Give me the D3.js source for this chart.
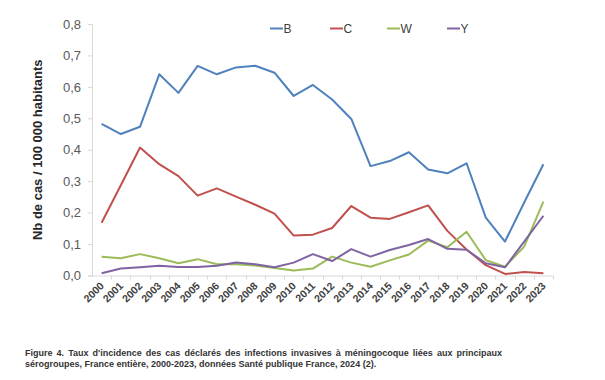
<!DOCTYPE html>
<html><head><meta charset="utf-8">
<script src="https://cdn.jsdelivr.net/npm/d3@7"></script>
<style>
html,body{margin:0;padding:0;background:#fff;}
svg{display:block;font-family:"Liberation Sans",Arial,sans-serif;}
</style></head>
<body>
<svg id="chart" width="605" height="380"></svg>
<script>
const years = ["2000","2001","2002","2003","2004","2005","2006","2007","2008","2009","2010","2011","2012","2013","2014","2015","2016","2017","2018","2019","2020","2021","2022","2023"];
const seriesNames = ["B","C","W","Y"];
const valuesB = [0.482,0.450,0.473,0.640,0.581,0.667,0.640,0.662,0.667,0.645,0.571,0.606,0.560,0.498,0.348,0.364,0.392,0.337,0.325,0.357,0.184,0.108,0.232,0.354];
const valuesC = [0.168,0.287,0.407,0.354,0.316,0.254,0.277,0.251,0.225,0.197,0.127,0.130,0.151,0.221,0.184,0.180,0.201,0.223,0.142,0.083,0.033,0.005,0.011,0.007];
const valuesW = [0.060,0.055,0.068,0.055,0.039,0.052,0.036,0.036,0.032,0.024,0.016,0.022,0.060,0.041,0.028,0.048,0.067,0.111,0.090,0.139,0.049,0.028,0.092,0.235];
const valuesY = [0.007,0.022,0.026,0.031,0.027,0.027,0.031,0.041,0.036,0.026,0.041,0.068,0.046,0.084,0.060,0.081,0.097,0.116,0.085,0.082,0.039,0.026,0.108,0.190];
const yTicks = [0,0.1,0.2,0.3,0.4,0.5,0.6,0.7,0.8];
const colors = ["#4f81bd","#c0504d","#9bbb59","#8064a2"];
const yLabel = "Nb de cas / 100 000 habitants";
const captionLines = ["Figure 4. Taux d'incidence des cas déclarés des infections invasives à méningocoque liées aux principaux",
                      "sérogroupes, France entière, 2000-2023, données Santé publique France, 2024 (2)."];

(function () {
const allValues = [valuesB, valuesC, valuesW, valuesY];
const svg = d3.select("#chart");
const pLeft = 92, pRight = 553, pTop = 24, pBottom = 275.5;

const x = d3.scaleBand().domain(years).range([pLeft, pRight]).paddingInner(0).paddingOuter(0);
const y = d3.scaleLinear().domain([0, 0.8]).range([pBottom, pTop]);
const cx = d => x(d) + x.bandwidth() / 2;
const axisColor = "#d9d9d9";
const textColor = "#595959";

// Y axis
const yAxis = d3.axisLeft(y).tickValues(yTicks).tickSize(4).tickPadding(7)
  .tickFormat(d => d3.format(".1f")(d).replace(".", ","));
const gy = svg.append("g").attr("transform", `translate(${pLeft},0)`).call(yAxis);
gy.select(".domain").attr("stroke", axisColor);
gy.selectAll(".tick line").attr("stroke", axisColor);
gy.selectAll(".tick text").attr("fill", textColor).style("font-size", "13px")
  .style("font-family", "'Liberation Sans',Arial,sans-serif");

// X axis
const xAxis = d3.axisBottom(x).tickSize(0).tickFormat(d => d);
const gx = svg.append("g").attr("transform", `translate(0,${pBottom})`).call(xAxis);
gx.select(".domain").attr("stroke", axisColor).attr("d", `M${pLeft},0.5H${pRight}`);
gx.selectAll(".tick text")
  .attr("fill", "#404040")
  .style("font-size", "10.5px").style("font-weight", "bold")
  .style("font-family", "'Liberation Sans',Arial,sans-serif")
  .attr("text-anchor", "end")
  .attr("dy", null).attr("y", 0)
  .attr("transform", "translate(3,11) rotate(-45)");
// boundary tick marks
const bounds = years.map(d => x(d)).concat([x(years[years.length - 1]) + x.bandwidth()]);
gx.selectAll(".btick").data(bounds.slice(1)).enter().append("line")
  .attr("class", "btick")
  .attr("x1", d => Math.round(d) + 0.5).attr("x2", d => Math.round(d) + 0.5)
  .attr("y1", 0).attr("y2", 4).attr("stroke", axisColor);

// Y label
svg.append("text")
  .attr("transform", `translate(42,${(pTop + pBottom) / 2}) rotate(-90)`)
  .attr("text-anchor", "middle")
  .style("font-size", "13px").style("font-weight", "bold")
  .attr("fill", "#262626")
  .text(yLabel);

// Lines
const line = d3.line().x((d, i) => cx(years[i])).y(d => y(d));
svg.append("g").selectAll("path").data(allValues).enter().append("path")
  .attr("d", d => line(d))
  .attr("fill", "none")
  .attr("stroke", (d, i) => colors[i])
  .attr("stroke-width", 2)
  .attr("stroke-linejoin", "round");

// Legend
const legendX = [270, 330, 387, 447];
const lg = svg.append("g");
seriesNames.forEach((name, i) => {
  lg.append("line").attr("x1", legendX[i]).attr("x2", legendX[i] + 13)
    .attr("y1", 28.5).attr("y2", 28.5).attr("stroke", colors[i]).attr("stroke-width", 2);
  lg.append("text").attr("x", legendX[i] + 13.5).attr("y", 33)
    .style("font-size", "12px").attr("fill", "#404040").text(name);
});

// Caption
const cap = svg.append("g");
const capX = 25, capRight = 502;
captionLines.forEach((t, i) => {
  const tx = cap.append("text").attr("x", capX).attr("y", 356 + i * 11)
    .style("font-size", "9px").style("font-weight", "bold").attr("fill", "#333")
    .text(t);
  if (i === 0) {
    const len = tx.node().getComputedTextLength();
    const gaps = t.split(" ").length - 1;
    const ws = (capRight - capX - len) / gaps;
    tx.style("word-spacing", ws + "px");
  }
});
})();
</script>
</body></html>
